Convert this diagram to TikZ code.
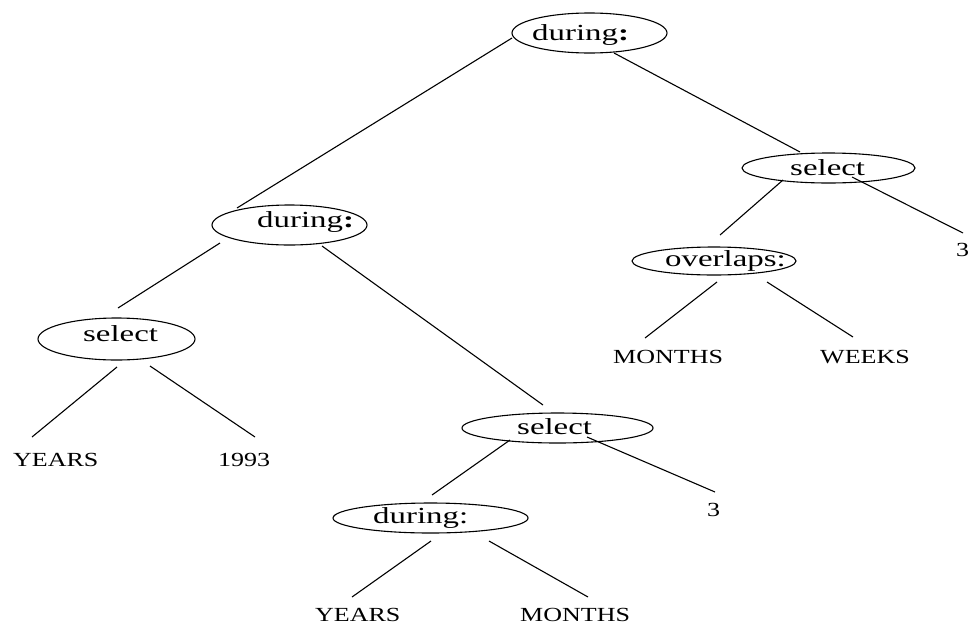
\documentclass[tikz,border=0pt]{standalone}
\usepackage{fontspec}
\setmainfont{Liberation Serif}
\usetikzlibrary{shapes.geometric,calc}
\newcommand{\opwide}[1]{\scalebox{1.43}[1]{#1}}
\newcommand{\leafwide}[1]{\scalebox{1.3}[1]{#1}}
\tikzset{
  oval/.style={ellipse, draw, inner sep=0pt, line width=1.1pt},
  optext/.style={anchor=base west, inner sep=0pt, font=\fontsize{23}{23}\selectfont},
  leaf/.style={anchor=base west, inner sep=0pt, font=\fontsize{20}{20}\selectfont},
  edge/.style={line width=1.1pt}
}
\begin{document}
\begin{tikzpicture}[x=1pt,y=-1pt]
\useasboundingbox (0,0) rectangle (973,627);
% ellipses
\node[oval, minimum width=155pt, minimum height=40pt] (D1) at (589.5,33) {};
\node[oval, minimum width=155pt, minimum height=40pt] (D2) at (289.5,225) {};
\node[oval, minimum width=157pt, minimum height=42pt] (S1) at (116.5,339) {};
\node[oval, minimum width=191pt, minimum height=30pt] (S2) at (557.5,428) {};
\node[oval, minimum width=195pt, minimum height=30pt] (D3) at (430.5,518) {};
\node[oval, minimum width=173pt, minimum height=30pt] (S3) at (828.5,168) {};
\node[oval, minimum width=164pt, minimum height=28pt] (O1) at (714,261) {};
% operator texts
\node[optext] (D1t) at (532,40) {\opwide{during\textbf{:}}};
\node[optext] (D2t) at (257,227) {\opwide{during\textbf{:}}};
\node[optext] (S1t) at (83,341) {\opwide{select}};
\node[optext] (S2t) at (517,434) {\opwide{select}};
\node[optext] (D3t) at (373,523) {\opwide{during:}};
\node[optext] (S3t) at (790,175) {\opwide{select}};
\node[optext] (O1t) at (665,266) {\opwide{overlaps:}};
% leaves
\node[leaf] (L1) at (13,466) {\leafwide{YEARS}};
\node[leaf] (L2) at (218,466) {\leafwide{1993}};
\node[leaf] (L3) at (315,621) {\leafwide{YEARS}};
\node[leaf] (L4) at (520,621) {\leafwide{MONTHS}};
\node[leaf] (L5) at (707,516) {\leafwide{3}};
\node[leaf] (L6) at (613,363) {\leafwide{MONTHS}};
\node[leaf] (L7) at (820,363) {\leafwide{WEEKS}};
\node[leaf] (L8) at (956,256) {\leafwide{3}};
% connectors
\draw[edge] ($(D1)+(-77.5,5)$) -- ($(D2)+(-52.5,-17)$);
\draw[edge] ($(D1)+(24.5,20)$) -- ($(S3)+(-28.5,-16)$);
\draw[edge] ($(S3)+(-45.5,12)$) -- ($(O1)+(6,-26)$);
\draw[edge] ($(S3)+(23.5,9)$) -- ($(L8.base west)+(7,-23)$);
\draw[edge] ($(O1)+(3,21)$) -- ($(L6.base west)+(32,-25)$);
\draw[edge] ($(O1)+(53,21)$) -- ($(L7.base west)+(33,-26)$);
\draw[edge] ($(D2)+(-69.5,18)$) -- ($(S1)+(1.5,-31)$);
\draw[edge] ($(D2)+(32.5,21)$) -- ($(S2)+(-14.5,-23)$);
\draw[edge] ($(S1)+(0.5,28)$) -- ($(L1.base west)+(19,-29)$);
\draw[edge] ($(S1)+(33.5,27)$) -- ($(L2.base west)+(37,-29)$);
\draw[edge] ($(S2)+(-47.5,12)$) -- ($(D3)+(1.5,-23)$);
\draw[edge] ($(S2)+(29.5,9)$) -- ($(L5.base west)+(8,-24)$);
\draw[edge] ($(D3)+(0.5,23)$) -- ($(L3.base west)+(37,-24)$);
\draw[edge] ($(D3)+(58.5,23)$) -- ($(L4.base west)+(68,-24)$);
\end{tikzpicture}
\end{document}
